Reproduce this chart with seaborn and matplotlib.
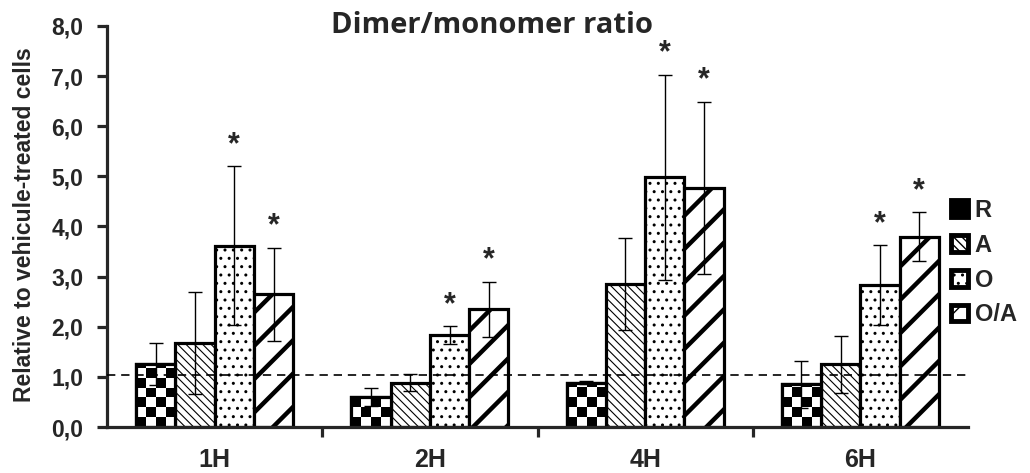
import numpy as np
import pandas as pd
import matplotlib
matplotlib.use("Agg")
import matplotlib.pyplot as plt
import seaborn as sns
from matplotlib.ticker import FixedLocator, FuncFormatter

# Data
times = ["1H", "2H", "4H", "6H"]
treatments = ["R", "A", "O", "O/A"]

r_mean = [1.25, 0.60, 0.88, 0.85]
a_mean = [1.68, 0.88, 2.85, 1.25]
o_mean = [3.62, 1.83, 4.98, 2.83]
oa_mean = [2.65, 2.35, 4.77, 3.80]

r_err = [0.42, 0.18, 0.03, 0.47]
a_err = [1.02, 0.17, 0.92, 0.57]
o_err = [1.58, 0.18, 2.05, 0.80]
oa_err = [0.93, 0.55, 1.72, 0.48]

# significance stars (1 = star above the bar)
r_sig = [0, 0, 0, 0]
a_sig = [0, 0, 0, 0]
o_sig = [1, 1, 1, 1]
oa_sig = [1, 1, 1, 1]

baseline = 1.03

means = [r_mean, a_mean, o_mean, oa_mean]
errs = [r_err, a_err, o_err, oa_err]
sigs = [r_sig, a_sig, o_sig, oa_sig]

df = pd.DataFrame({
    "time": np.tile(times, len(treatments)),
    "treatment": np.repeat(treatments, len(times)),
    "value": np.concatenate(means),
})

sns.set_style("ticks")
plt.rcParams["font.family"] = ["Liberation Sans", "DejaVu Sans"]
plt.rcParams["font.weight"] = "bold"

fig = plt.figure(figsize=(10.30, 4.73), dpi=100)
ax = fig.add_axes([107 / 1030, 1 - 427 / 473, (968 - 107) / 1030, (427 - 26) / 473])

sns.barplot(data=df, x="time", y="value", hue="treatment", order=times,
            hue_order=treatments, palette=["white"] * 4, width=0.73, gap=0,
            errorbar=None, edgecolor="black", linewidth=2.3, legend=False, ax=ax)
bar_groups = list(ax.containers)

ax.set_xlim(-0.5, len(times) - 0.5)
ax.set_ylim(0, 8)

hatches = [None, "\\\\\\\\", "..", "/"]
hatch_lw = [1.0, 0.8, 1.0, 3.2]
for i, cont in enumerate(bar_groups):
    for p in cont:
        if hatches[i]:
            p.set_hatch(hatches[i])
        if hasattr(p, "set_hatch_linewidth"):
            p.set_hatch_linewidth(hatch_lw[i])
        p.set_edgecolor("black")
        p.set_facecolor("white")

fig.canvas.draw()

# checkerboard fill for R, clipped to each bar
for p in bar_groups[0]:
    x0, w, h = p.get_x(), p.get_width(), p.get_height()
    (px0, py0), (px1, py1) = ax.transData.transform([(x0, 0), (x0 + w, h)])
    sq = (px1 - px0) / 4
    nrows = int(np.ceil((py1 - py0) / sq)) + 1
    board = np.indices((nrows, 4)).sum(axis=0) % 2
    top = ax.transData.inverted().transform((px0, py0 + nrows * sq))[1]
    im = ax.imshow(board, cmap="gray", extent=(x0, x0 + w, 0, top), origin="lower",
                   interpolation="nearest", aspect="auto", zorder=p.get_zorder() + 0.1)
    im.set_clip_path(p)
    ax.add_patch(plt.Rectangle((x0, 0), w, h, fill=False, edgecolor="black",
                               linewidth=2.3, zorder=p.get_zorder() + 0.2))

ax.set_xlim(-0.5, len(times) - 0.5)
ax.set_ylim(0, 8)

# error bars and stars
for i, cont in enumerate(bar_groups):
    for j, p in enumerate(cont):
        cx = p.get_x() + p.get_width() / 2
        ax.errorbar(cx, means[i][j], yerr=errs[i][j], fmt="none", ecolor="black",
                    elinewidth=1.0, capsize=5, capthick=1.0, zorder=5)
        if sigs[i][j]:
            ax.text(cx, means[i][j] + errs[i][j] + 0.12, "*", ha="center", va="bottom",
                    fontsize=22, fontweight="bold", zorder=6)

ax.axhline(baseline, color="black", linestyle=(0, (5, 3.5)), linewidth=1.2, zorder=4)

sns.despine(ax=ax)
for s in ["left", "bottom"]:
    ax.spines[s].set_linewidth(2.3)

ax.set_yticks(np.arange(0, 8.01, 1.0))
ax.yaxis.set_major_formatter(FuncFormatter(lambda v, _: f"{v:.1f}".replace(".", ",")))
ax.tick_params(axis="y", length=7, width=2.3, pad=10, labelsize=16.5)
ax.tick_params(axis="x", which="major", length=0, pad=15, labelsize=18)
ax.xaxis.set_minor_locator(FixedLocator([0.5, 1.5, 2.5]))
ax.tick_params(axis="x", which="minor", length=7, width=2.3)
for lab in ax.get_xticklabels() + ax.get_yticklabels():
    lab.set_fontweight("bold")

ax.set_xlabel("")
ax.set_ylabel("")
fig.text(25 / 1030, 1 - 225 / 473, "Relative to vehicule-treated cells", rotation=90,
         ha="center", va="center", fontsize=16.5, fontweight="bold")
fig.text(492 / 1030, 1 - 33 / 473, "Dimer/monomer ratio", ha="center", va="baseline",
         fontsize=21, fontweight="bold", family=["Open Sans", "DejaVu Sans"])

handles = [c[0] for c in bar_groups]
leg = ax.legend(handles, treatments, loc="upper left",
                bbox_to_anchor=(951 / 1030, 1 - 199 / 473), bbox_transform=fig.transFigure,
                frameon=False, handlelength=0.7, handleheight=0.7, handletextpad=0.3,
                labelspacing=0.5, borderpad=0, borderaxespad=0,
                prop={"size": 17, "weight": "bold"})
for k, hp in enumerate(leg.get_patches()):
    hp.set_linewidth(3.5)
    if k == 0:
        hp.set_facecolor("black")

fig.savefig("out.png", dpi=100)
